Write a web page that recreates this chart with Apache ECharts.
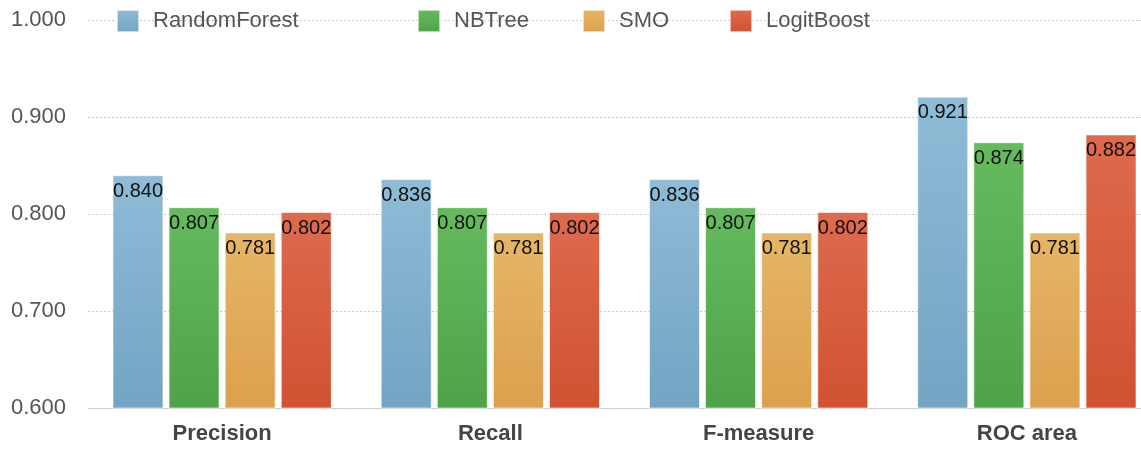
<!DOCTYPE html>
<html>
<head>
<meta charset="utf-8">
<style>
  html, body { margin: 0; padding: 0; background: #fff; }
  #chart { width: 1141px; height: 449px; }
</style>
<script src="https://cdn.jsdelivr.net/npm/echarts@6/dist/echarts.min.js"></script>
</head>
<body>
<div id="chart"></div>
<script>
// Evaluation metrics per classifier
const categories = ['Precision', 'Recall', 'F-measure', 'ROC area'];
const seriesNames = ['RandomForest', 'NBTree', 'SMO', 'LogitBoost'];
const randomForest = [0.840, 0.836, 0.836, 0.921];
const nbTree = [0.807, 0.807, 0.807, 0.874];
const smo = [0.781, 0.781, 0.781, 0.781];
const logitBoost = [0.802, 0.802, 0.802, 0.882];
const yTicks = { min: 0.6, max: 1.0, step: 0.1 };

const values = [randomForest, nbTree, smo, logitBoost];
const fills = [
  ['#8fbbd6', '#73a4c4'],
  ['#65ba5e', '#4fa248'],
  ['#e5b666', '#dca04e'],
  ['#de6a4e', '#d05231']
];
const legendLeft = [116, 417, 582, 729];

function grad(c) {
  return new echarts.graphic.LinearGradient(0, 0, 0, 1, [
    { offset: 0, color: c[0] },
    { offset: 1, color: c[1] }
  ]);
}

const font = '"Liberation Sans", Arial, sans-serif';

const chart = echarts.init(document.getElementById('chart'), null, { renderer: 'canvas' });

chart.setOption({
  animation: false,
  backgroundColor: '#fff',
  textStyle: { fontFamily: font },
  legend: seriesNames.map((name, i) => ({
    data: [name],
    left: legendLeft[i],
    top: 9,
    padding: 0,
    icon: 'rect',
    itemWidth: 22,
    itemHeight: 22,
    selectedMode: false,
    textStyle: { fontSize: 22, color: '#555', fontFamily: font, padding: [0, 0, 0, 9] }
  })),
  // the plot runs past the right edge of the canvas
  grid: { left: 88, width: 1073, top: 20, bottom: 41, outerBoundsMode: 'none', containLabel: false },
  xAxis: {
    type: 'category',
    data: categories,
    axisTick: { show: false },
    axisLine: { lineStyle: { color: '#cfcfcf', width: 1 } },
    axisLabel: { fontSize: 22, fontWeight: 'bold', color: '#444', margin: 15, fontFamily: font }
  },
  yAxis: {
    type: 'value',
    min: yTicks.min,
    max: yTicks.max,
    interval: yTicks.step,
    axisLine: { show: false },
    axisTick: { show: false },
    axisLabel: {
      fontSize: 22, color: '#555', margin: 22, fontFamily: font,
      formatter: v => v.toFixed(3)
    },
    splitLine: { lineStyle: { color: '#c8c8c8', type: [2, 2], width: 1 } }
  },
  series: seriesNames.map((name, i) => ({
    name,
    type: 'bar',
    data: values[i],
    barWidth: 51,
    barGap: '10%',
    itemStyle: {
      color: grad(fills[i]),
      borderColor: 'rgba(255,255,255,0.6)',
      borderWidth: 1
    },
    label: {
      show: true,
      position: 'insideTop',
      distance: 6,
      color: '#111',
      fontSize: 20,
      fontFamily: font,
      formatter: p => p.value.toFixed(3)
    }
  }))
});
</script>
</body>
</html>
